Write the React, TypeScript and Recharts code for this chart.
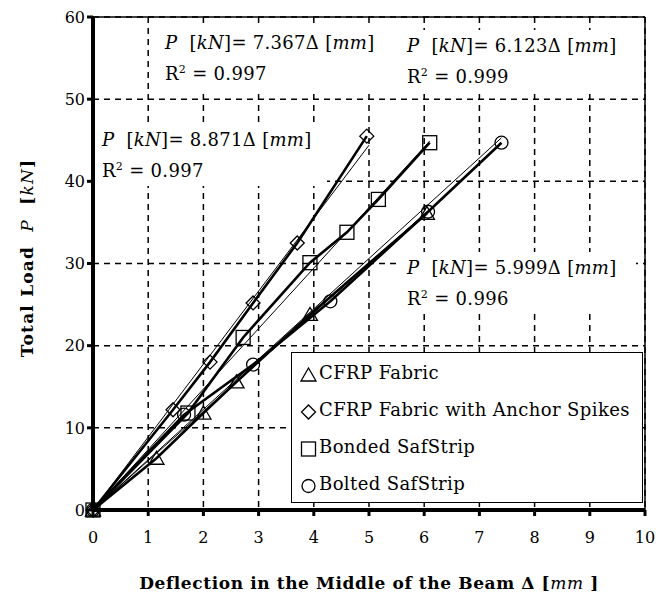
import { ScatterChart, Scatter, XAxis, YAxis, CartesianGrid, ReferenceLine, Label } from 'recharts'

const FONT = '"DejaVu Serif", "Liberation Serif", serif'

const xTicks = [0, 1, 2, 3, 4, 5, 6, 7, 8, 9, 10]
const yTicks = [0, 10, 20, 30, 40, 50, 60]

const seriesNames = ['CFRP Fabric', 'CFRP Fabric with Anchor Spikes', 'Bonded SafStrip', 'Bolted SafStrip']
const seriesMarkers = ['tri', 'dia', 'sq', 'circ']

// deflection [mm] / load [kN] at the plotted markers
const fabricDefl = [0, 1.15, 2.0, 2.6, 3.93, 6.05]
const fabricLoad = [0, 6.3, 11.8, 15.6, 23.8, 36.1]
const spikesDefl = [0, 1.45, 2.12, 2.9, 3.7, 4.96]
const spikesLoad = [0, 12.2, 18.0, 25.2, 32.5, 45.5]
const bondedDefl = [0, 1.72, 2.72, 3.93, 4.6, 5.17, 6.1]
const bondedLoad = [0, 11.8, 21.0, 30.1, 33.8, 37.8, 44.7]
const boltedDefl = [0, 1.65, 2.9, 4.3, 6.07, 7.4]
const boltedLoad = [0, 11.6, 17.7, 25.4, 36.3, 44.7]

// linear trend lines (start and end)
const fabricFitDefl = [0, 6.05]
const fabricFitLoad = [0, 36.3]
const spikesFitDefl = [0, 5.0]
const spikesFitLoad = [0, 44.4]
const bondedFitDefl = [0, 6.1]
const bondedFitLoad = [0, 44.9]
const boltedFitDefl = [0, 7.4]
const boltedFitLoad = [0, 45.3]

const fitSlopes = ['7.367', '6.123', '8.871', '5.999']
const fitR2 = ['0.997', '0.999', '0.997', '0.996']
const fitBoxes = [
  { left: 158, top: 27, width: 228 },
  { left: 400, top: 30, width: 205 },
  { left: 95, top: 124, width: 232 },
  { left: 400, top: 252, width: 236 },
]

const toPoints = (xs: number[], ys: number[]) => xs.map((x, i) => ({ x, y: ys[i] }))

const rawSeries = [
  toPoints(fabricDefl, fabricLoad),
  toPoints(spikesDefl, spikesLoad),
  toPoints(bondedDefl, bondedLoad),
  toPoints(boltedDefl, boltedLoad),
]
const fitSeries = [
  toPoints(fabricFitDefl, fabricFitLoad),
  toPoints(spikesFitDefl, spikesFitLoad),
  toPoints(bondedFitDefl, bondedFitLoad),
  toPoints(boltedFitDefl, boltedFitLoad),
]

function MarkerShape({ cx, cy, kind }: { cx: number; cy: number; kind: string }) {
  const s = { fill: 'none', stroke: '#000', strokeWidth: 1.3 }
  if (kind === 'tri') return <path d={`M${cx},${cy - 7} L${cx + 7.5},${cy + 6} L${cx - 7.5},${cy + 6} Z`} {...s} />
  if (kind === 'dia') return <path d={`M${cx},${cy - 7} L${cx + 7},${cy} L${cx},${cy + 7} L${cx - 7},${cy} Z`} {...s} />
  if (kind === 'sq') return <rect x={cx - 7} y={cy - 7} width={14} height={14} {...s} />
  return <circle cx={cx} cy={cy} r={6.5} {...s} />
}

function LegendIcon({ kind }: { kind: string }) {
  return (
    <svg width={17} height={17} style={{ verticalAlign: 'middle', marginRight: 2 }}>
      <MarkerShape cx={8.5} cy={9} kind={kind} />
    </svg>
  )
}

function YTitle({ viewBox }: any) {
  const cx = viewBox.x + 27
  const cy = 258
  return (
    <text x={cx} y={cy} transform={`rotate(-90 ${cx} ${cy})`} textAnchor="middle" dominantBaseline="central"
      fontFamily={FONT} fontSize={17} fontWeight="bold" fill="#000" letterSpacing={1.2}>
      Total Load{'\u00a0\u00a0'}<tspan fontStyle="italic" fontWeight="normal">P</tspan>{'\u00a0\u00a0'}[<tspan fontStyle="italic" fontWeight="normal">kN</tspan>]
    </text>
  )
}

function XTitle({ viewBox }: any) {
  const cx = viewBox.x + viewBox.width / 2
  const cy = viewBox.y + 73
  return (
    <text x={cx} y={cy} textAnchor="middle" dominantBaseline="central"
      fontFamily={FONT} fontSize={17} fontWeight="bold" fill="#000" letterSpacing={0.6}>
      Deflection in the Middle of the Beam Δ [<tspan fontStyle="italic" fontWeight="normal">mm</tspan> ]
    </text>
  )
}

export default function App() {
  return (
    <div style={{ position: 'absolute', left: 0, top: 0, width: 670, height: 598, background: '#fff' }}>
      <ScatterChart width={670} height={598} margin={{ top: 17, right: 25, bottom: 0, left: 0 }}>
        <CartesianGrid stroke="#000" strokeWidth={1.5} strokeDasharray="6 5" />
        <XAxis type="number" dataKey="x" domain={[0, 10]} ticks={xTicks} height={88}
          axisLine={{ stroke: '#000', strokeWidth: 4 }} tickLine={{ stroke: '#000', strokeWidth: 3 }}
          tickSize={6} tickMargin={16} tick={{ fill: '#000', fontSize: 16, fontFamily: FONT }}>
          <Label content={<XTitle />} />
        </XAxis>
        <YAxis type="number" dataKey="y" domain={[0, 60]} ticks={yTicks} width={93}
          axisLine={{ stroke: '#000', strokeWidth: 4 }} tickLine={{ stroke: '#000', strokeWidth: 3 }}
          tickSize={6} tick={{ fill: '#000', fontSize: 16, fontFamily: FONT }}>
          <Label content={<YTitle />} />
        </YAxis>
        <ReferenceLine y={60} stroke="#000" strokeWidth={1.5} />
        <ReferenceLine x={10} stroke="#000" strokeWidth={1.5} />
        {fitSeries.map((pts, i) => (
          <Scatter key={`fit${i}`} data={pts} line={{ stroke: '#000', strokeWidth: 1 }} lineType="joint"
            shape={() => <g />} isAnimationActive={false} />
        ))}
        {rawSeries.map((pts, i) => (
          <Scatter key={`raw${i}`} name={seriesNames[i]} data={pts}
            line={{ stroke: '#000', strokeWidth: 2.6 }} lineType="joint"
            shape={(p: any) => <MarkerShape cx={p.cx} cy={p.cy} kind={seriesMarkers[i]} />}
            isAnimationActive={false} />
        ))}
      </ScatterChart>

      {fitBoxes.map((b, i) => (
        <div key={i} style={{
          position: 'absolute', left: b.left, top: b.top, width: b.width, background: '#fff',
          fontFamily: FONT, fontSize: 18, letterSpacing: 0.3, lineHeight: '31px', color: '#000', paddingLeft: 7,
          boxSizing: 'border-box', whiteSpace: 'nowrap',
        }}>
          <div><i>P</i>&nbsp; [<i>kN</i>]= {fitSlopes[i]}Δ [<i>mm</i>]</div>
          <div>R<sup style={{ fontSize: 11, lineHeight: 0 }}>2</sup> = {fitR2[i]}</div>
        </div>
      ))}

      <div style={{
        position: 'absolute', left: 291, top: 352, width: 352, height: 151, boxSizing: 'border-box',
        border: '1.5px solid #000', background: '#fff', fontFamily: FONT, fontSize: 18, letterSpacing: 0.4,
        color: '#000', padding: '1px 0 0 8px',
      }}>
        {seriesNames.map((n, i) => (
          <div key={n} style={{ height: 37, lineHeight: '37px', whiteSpace: 'nowrap' }}>
            <LegendIcon kind={seriesMarkers[i]} />{n}
          </div>
        ))}
      </div>
    </div>
  )
}
